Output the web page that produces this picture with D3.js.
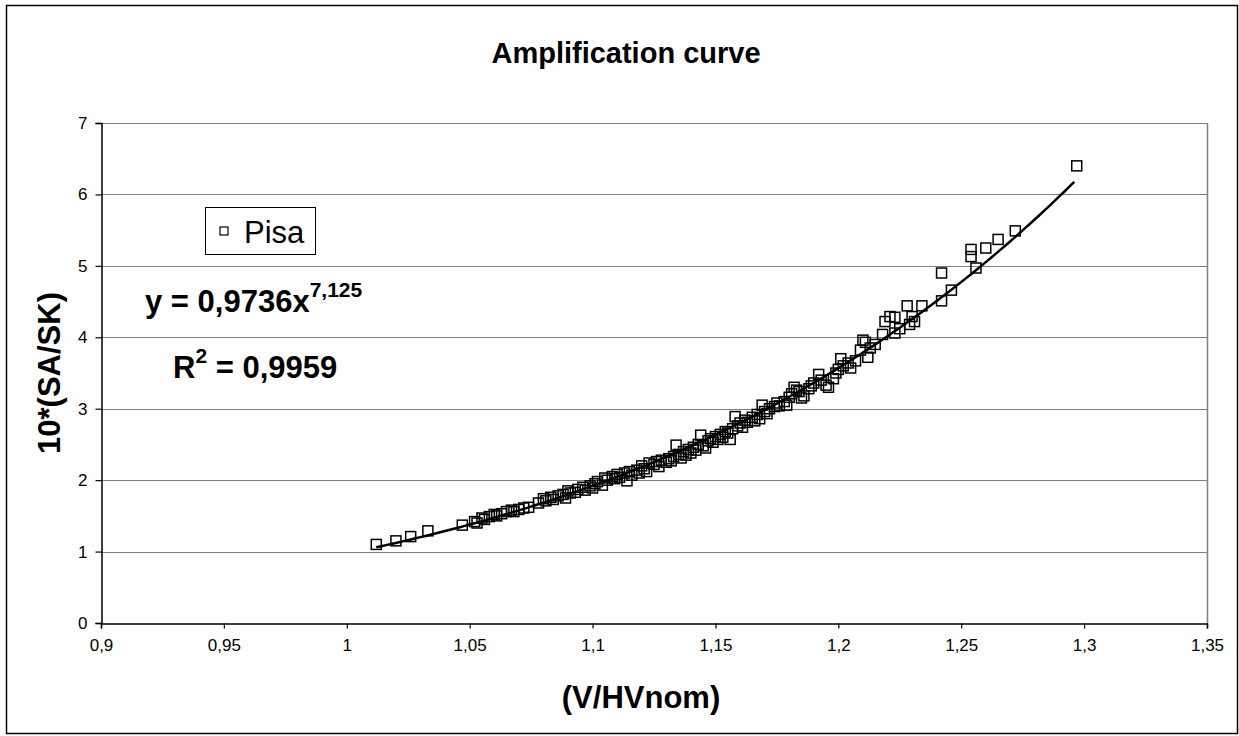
<!DOCTYPE html>
<html>
<head>
<meta charset="utf-8">
<script src="https://d3js.org/d3.v7.min.js"></script>
<style>
  body { margin: 0; padding: 0; background: #fff; }
  svg { display: block; font-family: Arial, "Liberation Sans", sans-serif; }
</style>
</head>
<body>
<div id="chart"></div>
<script>
const pisaX = [1.012, 1.020, 1.026, 1.033, 1.047, 1.052, 1.053, 1.055, 1.056, 1.058,
  1.060, 1.061, 1.063, 1.065, 1.067, 1.068, 1.070, 1.072, 1.074, 1.078,
  1.080, 1.081, 1.083, 1.084, 1.086, 1.088, 1.089, 1.090, 1.091, 1.093,
  1.094, 1.096, 1.097, 1.099, 1.100, 1.101, 1.102, 1.104, 1.105, 1.106,
  1.108, 1.109, 1.110, 1.111, 1.113, 1.114, 1.115, 1.116, 1.118, 1.119,
  1.120, 1.121, 1.122, 1.123, 1.125, 1.126, 1.127, 1.128, 1.130, 1.131,
  1.132, 1.133, 1.134, 1.135, 1.136, 1.137, 1.138, 1.139, 1.140, 1.141,
  1.142, 1.143, 1.144, 1.145, 1.146, 1.147, 1.148, 1.149, 1.150, 1.151,
  1.152, 1.153, 1.154, 1.155, 1.156, 1.157, 1.158, 1.159, 1.160, 1.161,
  1.162, 1.163, 1.165, 1.166, 1.167, 1.168, 1.169, 1.170, 1.171, 1.172,
  1.174, 1.175, 1.176, 1.178, 1.179, 1.180, 1.181, 1.182, 1.183, 1.184,
  1.185, 1.186, 1.188, 1.189, 1.190, 1.192, 1.193, 1.195, 1.196, 1.198,
  1.199, 1.200, 1.201, 1.202, 1.204, 1.205, 1.207, 1.209, 1.210, 1.211,
  1.212, 1.213, 1.215, 1.218, 1.219, 1.221, 1.223, 1.223, 1.225, 1.228,
  1.229, 1.230, 1.231, 1.234, 1.242, 1.242, 1.246, 1.254, 1.254, 1.256,
  1.260, 1.265, 1.272, 1.297];
const pisaY = [1.10, 1.15, 1.21, 1.29, 1.37, 1.42, 1.40, 1.47, 1.45, 1.49,
  1.52, 1.50, 1.53, 1.56, 1.58, 1.56, 1.59, 1.61, 1.62, 1.68,
  1.74, 1.71, 1.76, 1.73, 1.78, 1.80, 1.75, 1.85, 1.82, 1.83,
  1.87, 1.90, 1.86, 1.92, 1.89, 1.95, 1.98, 1.93, 2.03, 2.00,
  2.05, 2.02, 2.08, 2.04, 2.10, 1.99, 2.12, 2.07, 2.14, 2.10,
  2.20, 2.16, 2.12, 2.24, 2.22, 2.26, 2.19, 2.28, 2.25, 2.30,
  2.27, 2.33, 2.49, 2.36, 2.31, 2.40, 2.35, 2.43, 2.38, 2.46,
  2.42, 2.50, 2.63, 2.48, 2.45, 2.55, 2.58, 2.53, 2.61, 2.57,
  2.64, 2.60, 2.68, 2.66, 2.57, 2.72, 2.89, 2.76, 2.80, 2.74,
  2.84, 2.81, 2.88, 2.83, 2.92, 2.86, 3.05, 2.96, 2.93, 3.00,
  3.03, 3.08, 3.04, 3.10, 3.05, 3.16, 3.21, 3.30, 3.26, 3.24,
  3.15, 3.18, 3.28, 3.32, 3.36, 3.48, 3.40, 3.33, 3.30, 3.42,
  3.50, 3.55, 3.70, 3.60, 3.64, 3.57, 3.67, 3.82, 3.96, 3.93,
  3.72, 3.85, 3.90, 4.04, 4.22, 4.29, 4.28, 4.06, 4.12, 4.44,
  4.18, 4.29, 4.22, 4.44, 4.51, 4.90, 4.66, 5.23, 5.13, 4.97,
  5.25, 5.37, 5.49, 6.40];

// power trendline as printed on the chart: y = 0,9736 x^7,125
const fitA = 0.9736;
const fitB = 7.125;
const fitR2 = 0.9959;

const xTicks = [0.9, 0.95, 1, 1.05, 1.1, 1.15, 1.2, 1.25, 1.3, 1.35];
const yTicks = [0, 1, 2, 3, 4, 5, 6, 7];

const width = 1239, height = 736;
const plot = { left: 101, right: 1207, top: 123, bottom: 623 };
const comma = v => String(+v.toFixed(4)).replace('.', ',');

const svg = d3.select("#chart").append("svg")
  .attr("width", width)
  .attr("height", height);

// outer chart border
svg.append("rect")
  .attr("x", 6.5).attr("y", 5.5)
  .attr("width", 1231).attr("height", 728)
  .attr("fill", "#fff").attr("stroke", "#000").attr("stroke-width", 1.5);

const x = d3.scaleLinear().domain([0.9, 1.35]).range([plot.left, plot.right]);
const y = d3.scaleLinear().domain([0, 7]).range([plot.bottom, plot.top]);

// gridlines
svg.append("g")
  .selectAll("line")
  .data(yTicks.filter(d => d > 0))
  .enter().append("line")
  .attr("x1", plot.left).attr("x2", plot.right)
  .attr("y1", d => Math.round(y(d)) + 0.5).attr("y2", d => Math.round(y(d)) + 0.5)
  .attr("stroke", "#808080").attr("stroke-width", 1);

// right border of plot area
svg.append("line")
  .attr("x1", plot.right + 0.5).attr("x2", plot.right + 0.5)
  .attr("y1", plot.top).attr("y2", plot.bottom)
  .attr("stroke", "#808080").attr("stroke-width", 1.5);

// axes
const xAxis = svg.append("g")
  .attr("transform", `translate(0,${plot.bottom + 0.5})`)
  .call(d3.axisBottom(x).tickValues(xTicks).tickFormat(comma).tickSize(5).tickPadding(10));
const yAxis = svg.append("g")
  .attr("transform", `translate(${plot.left + 0.5},0)`)
  .call(d3.axisLeft(y).tickValues(yTicks).tickFormat(comma).tickSize(6).tickPadding(8));

[xAxis, yAxis].forEach(g => {
  g.select(".domain").attr("stroke", "#000").attr("stroke-width", 1.5);
  g.selectAll(".tick line").attr("stroke", "#000").attr("stroke-width", 1.2);
  g.selectAll("text")
    .attr("font-family", 'Arial, "Liberation Sans", sans-serif')
    .attr("font-size", 17).attr("fill", "#000");
});

// trendline
const fitXs = d3.range(d3.min(pisaX), d3.max(pisaX) + 0.0005, 0.002);
svg.append("path")
  .datum(fitXs)
  .attr("fill", "none")
  .attr("stroke", "#000")
  .attr("stroke-width", 2.5)
  .attr("d", d3.line().x(d => x(d)).y(d => y(fitA * Math.pow(d, fitB))));

// data markers
const markerSize = 10;
svg.append("g")
  .selectAll("rect")
  .data(pisaX.map((v, i) => [v, pisaY[i]]))
  .enter().append("rect")
  .attr("x", d => x(d[0]) - markerSize / 2)
  .attr("y", d => y(d[1]) - markerSize / 2)
  .attr("width", markerSize).attr("height", markerSize)
  .attr("fill", "none")
  .attr("stroke", "#000")
  .attr("stroke-width", 1.5);

// title and axis titles
svg.append("text")
  .attr("x", 626).attr("y", 63)
  .attr("text-anchor", "middle")
  .attr("font-size", 29).attr("font-weight", "bold")
  .text("Amplification curve");

svg.append("text")
  .attr("x", 641).attr("y", 708)
  .attr("text-anchor", "middle")
  .attr("font-size", 31).attr("font-weight", "bold")
  .text("(V/HVnom)");

svg.append("text")
  .attr("transform", "translate(60,373) rotate(-90)")
  .attr("text-anchor", "middle")
  .attr("font-size", 31).attr("font-weight", "bold")
  .text("10*(SA/SK)");

// legend
const legend = svg.append("g");
legend.append("rect")
  .attr("x", 205.5).attr("y", 207.5)
  .attr("width", 110).attr("height", 47)
  .attr("fill", "#fff").attr("stroke", "#000").attr("stroke-width", 1);
legend.append("rect")
  .attr("x", 220).attr("y", 227)
  .attr("width", 8).attr("height", 8)
  .attr("fill", "none").attr("stroke", "#000").attr("stroke-width", 1.2);
legend.append("text")
  .attr("x", 244).attr("y", 243)
  .attr("font-size", 31)
  .text("Pisa");

// equation labels
const eq = svg.append("text")
  .attr("x", 145).attr("y", 312)
  .attr("font-size", 31).attr("font-weight", "bold");
eq.append("tspan").text("y = " + comma(fitA) + "x");
eq.append("tspan").attr("dy", -15).attr("font-size", 21).text(comma(fitB));

const r2 = svg.append("text")
  .attr("x", 173).attr("y", 378)
  .attr("font-size", 31).attr("font-weight", "bold");
r2.append("tspan").text("R");
r2.append("tspan").attr("dy", -15).attr("font-size", 21).text("2");
r2.append("tspan").attr("dy", 15).text(" = " + comma(fitR2));
</script>
</body>
</html>
